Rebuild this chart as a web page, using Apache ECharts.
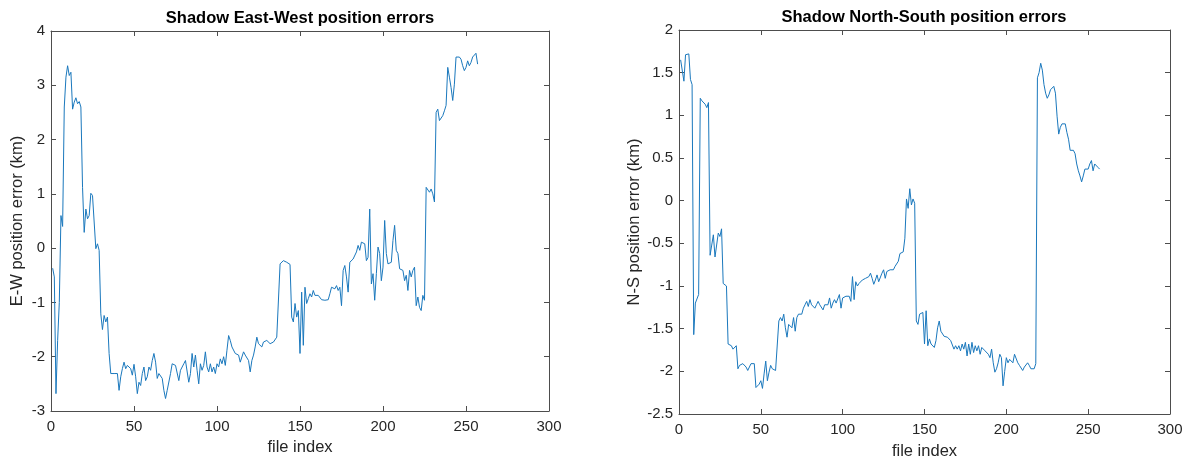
<!DOCTYPE html>
<html><head><meta charset="utf-8">
<script src="https://cdn.jsdelivr.net/npm/echarts@6/dist/echarts.min.js"></script>
<style>html,body{margin:0;padding:0;background:#fff}#c{width:1188px;height:465px}</style>
</head><body><div id="c"></div>
<script>
// E-W position error (km), file index 1..257
const ewErrors = [
-0.37,-0.53,-2.68,-1.7,-1.0,0.6,0.4,2.6,3.15,3.36,
3.18,3.24,2.56,2.69,2.77,2.66,2.7,2.6,1.12,0.29,
0.72,0.54,0.6,1.01,0.97,0.94,-0.01,0.08,-0.04,-1.21,
-1.5,-1.24,-1.36,-1.27,-1.94,-2.31,-2.34,-2.31,-2.28,-2.31,
-2.62,-2.37,-2.22,-2.1,-2.22,-2.16,-2.19,-2.22,-2.34,-2.14,
-2.37,-2.68,-2.47,-2.53,-2.31,-2.19,-2.44,-2.37,-2.19,-2.25,
-2.07,-1.94,-2.1,-2.4,-2.31,-2.34,-2.4,-2.62,-2.77,-2.62,
-2.62,-2.31,-2.13,-2.16,-2.16,-2.19,-2.44,-2.25,-2.22,-2.13,
-2.07,-2.04,-2.47,-2.31,-1.94,-2.19,-1.97,-2.25,-2.5,-2.13,
-2.25,-2.16,-1.91,-2.19,-2.28,-2.13,-2.28,-2.19,-2.31,-2.13,
-2.19,-2.04,-2.13,-2.0,-2.16,-1.88,-1.61,-1.7,-1.82,-1.82,
-1.94,-1.94,-1.97,-2.1,-2.07,-1.91,-1.97,-1.94,-2.07,-2.28,
-2.07,-1.97,-1.82,-1.64,-1.76,-1.76,-1.82,-1.73,-1.73,-1.7,
-1.73,-1.76,-1.79,-1.73,-1.7,-1.64,-1.67,-0.29,-0.26,-0.23,
-0.26,-0.26,-0.29,-0.3,-1.27,-1.36,-1.02,-1.27,-1.15,-1.94,
-0.81,-1.79,-0.72,-1.02,-0.93,-0.84,-0.9,-0.78,-0.87,-0.9,
-0.87,-0.9,-0.95,-0.96,-0.96,-0.96,-0.95,-0.84,-0.72,-0.69,
-0.75,-0.69,-0.78,-0.72,-1.06,-0.41,-0.32,-0.53,-0.81,-0.26,
-0.23,-0.2,-0.17,-0.07,0.05,-0.04,0.11,0.14,0.08,-0.23,
-0.17,0.72,-0.66,-0.47,-0.96,-0.47,0.02,-0.1,-0.6,-0.35,
0.51,-0.1,-0.29,-0.32,-0.26,0.14,0.42,-0.04,-0.1,-0.38,
-0.35,-0.41,-0.6,-0.5,-0.78,-0.41,-0.53,-0.41,-0.35,-1.06,
-0.9,-1.09,-1.15,-0.87,-0.96,1.12,1.15,1.03,1.09,1.0,
0.85,2.5,2.56,2.35,2.38,2.44,2.53,2.63,3.33,3.15,
2.96,2.72,3.02,3.52,3.55,3.52,3.48,3.36,3.27,3.33,
3.45,3.36,3.42,3.52,3.55,3.59,3.39
];
// N-S position error (km), file index 1..257
const nsErrors = [
1.65,1.63,1.4,1.71,1.69,1.72,1.42,1.36,-1.57,-1.2,
-1.2,-1.1,1.2,1.17,1.17,1.13,1.09,1.15,-0.64,-0.52,
-0.4,-0.66,-0.66,-0.38,-0.42,-0.33,-0.97,-0.95,-1.0,-1.68,
-1.68,-1.7,-1.74,-1.72,-1.7,-1.97,-1.93,-1.91,-1.91,-1.93,
-1.95,-1.99,-1.99,-1.91,-1.9,-1.91,-2.19,-2.17,-2.15,-2.11,
-2.2,-2.03,-1.88,-2.11,-2.01,-1.93,-1.97,-1.95,-1.99,-1.99,
-1.41,-1.37,-1.41,-1.33,-1.49,-1.6,-1.45,-1.43,-1.49,-1.37,
-1.53,-1.37,-1.33,-1.31,-1.33,-1.26,-1.22,-1.18,-1.24,-1.16,
-1.22,-1.2,-1.26,-1.22,-1.18,-1.22,-1.2,-1.28,-1.22,-1.24,
-1.22,-1.14,-1.26,-1.2,-1.16,-1.2,-1.18,-1.1,-1.26,-1.14,
-1.13,-1.12,-1.14,-1.12,-1.18,-0.89,-1.16,-0.95,-1.0,-0.97,
-0.95,-0.93,-0.93,-0.91,-0.93,-0.89,-0.85,-0.91,-0.98,-0.93,
-0.87,-0.95,-0.93,-0.85,-0.81,-0.91,-0.83,-0.85,-0.81,-0.83,
-0.81,-0.77,-0.79,-0.71,-0.62,-0.64,-0.6,-0.44,0.02,-0.09,
0.14,-0.05,0.02,-0.03,-1.41,-1.45,-1.33,-1.31,-1.31,-1.68,
-1.29,-1.7,-1.62,-1.68,-1.7,-1.72,-1.64,-1.49,-1.41,-1.53,
-1.55,-1.59,-1.6,-1.6,-1.62,-1.64,-1.62,-1.74,-1.7,-1.74,
-1.7,-1.76,-1.68,-1.74,-1.66,-1.82,-1.68,-1.8,-1.66,-1.78,
-1.7,-1.76,-1.7,-1.8,-1.72,-1.74,-1.76,-1.74,-1.8,-1.84,
-1.74,-1.9,-2.01,-1.97,-1.9,-1.8,-1.84,-2.17,-2.0,-1.84,
-1.9,-1.86,-1.88,-1.9,-1.8,-1.78,-1.9,-1.93,-1.95,-1.99,
-1.95,-1.93,-1.9,-1.93,-1.97,-1.99,-1.97,-1.91,1.44,1.5,
1.61,1.53,1.36,1.26,1.2,1.24,1.3,1.32,1.34,1.26,
0.99,0.78,0.86,0.9,0.88,0.9,0.8,0.72,0.59,0.57,
0.59,0.55,0.43,0.35,0.29,0.22,0.29,0.37,0.39,0.37,
0.43,0.47,0.35,0.43,0.41,0.39,0.37
];
const xTickRange = {min: 0, max: 300, interval: 50};
const ewRange = {min: -3, max: 4, interval: 1};
const nsRange = {min: -2.5, max: 2, interval: 0.5};
const titles = ['Shadow East-West position errors', 'Shadow North-South position errors'];
const yNames = ['E-W position error (km)', 'N-S position error (km)'];
const xName = 'file index';

const FONT = "'Liberation Sans', Arial, Helvetica, sans-serif";
const axisColor = '#4d4d4d';
const labelColor = '#262626';

function pairs(arr){ return arr.map((v,i)=>[i+1, v]); }

function xAx(g, pos, showLab, gap){
  return Object.assign({
    gridIndex: g, type: 'value', position: pos,
    name: showLab ? xName : '', nameLocation: 'middle', nameGap: gap,
    nameTextStyle: {fontFamily: FONT, fontSize: 16.5, color: labelColor},
    axisLine: {show: true, onZero: false, lineStyle: {color: axisColor, width: 1}},
    axisTick: {show: true, inside: true, length: 5, lineStyle: {color: axisColor}},
    axisLabel: {show: showLab, margin: 8, fontFamily: FONT, fontSize: 15, color: labelColor},
    splitLine: {show: false}
  }, xTickRange);
}
function yAx(g, pos, showLab, range, name, gap){
  return Object.assign({
    gridIndex: g, type: 'value', position: pos,
    name: showLab ? name : '', nameLocation: 'middle', nameGap: gap,
    nameTextStyle: {fontFamily: FONT, fontSize: 16.5, color: labelColor},
    axisLine: {show: true, onZero: false, lineStyle: {color: axisColor, width: 1}},
    axisTick: {show: true, inside: true, length: 5, lineStyle: {color: axisColor}},
    axisLabel: {show: showLab, margin: 6, fontFamily: FONT, fontSize: 15, color: labelColor},
    splitLine: {show: false}
  }, range);
}

const chart = echarts.init(document.getElementById('c'), null, {renderer: 'canvas'});
chart.setOption({
  animation: false,
  backgroundColor: '#fff',
  grid: [
    {left: 51, right: 639, top: 31, bottom: 54},
    {left: 679, right: 18, top: 30, bottom: 48}
  ],
  graphic: [
    {type: 'text', x: 300, y: 18, style: {text: titles[0], font: "bold 16.5px " + FONT, fill: '#000', textAlign: 'center', textVerticalAlign: 'middle'}},
    {type: 'text', x: 924, y: 17, style: {text: titles[1], font: "bold 16.5px " + FONT, fill: '#000', textAlign: 'center', textVerticalAlign: 'middle'}}
  ],
  xAxis: [
    xAx(0, 'bottom', true, 27), xAx(0, 'top', false, 0),
    xAx(1, 'bottom', true, 29), xAx(1, 'top', false, 0)
  ],
  yAxis: [
    yAx(0, 'left', true, ewRange, yNames[0], 25), yAx(0, 'right', false, ewRange, '', 0),
    yAx(1, 'left', true, nsRange, yNames[1], 36), yAx(1, 'right', false, nsRange, '', 0)
  ],
  series: [
    {type: 'line', xAxisIndex: 0, yAxisIndex: 0, data: pairs(ewErrors), showSymbol: false, symbol: 'none',
     lineStyle: {color: '#1a78bd', width: 1}, itemStyle: {color: '#1a78bd'}},
    {type: 'line', xAxisIndex: 2, yAxisIndex: 2, data: pairs(nsErrors), showSymbol: false, symbol: 'none',
     lineStyle: {color: '#1a78bd', width: 1}, itemStyle: {color: '#1a78bd'}}
  ]
});
</script>
</body></html>
